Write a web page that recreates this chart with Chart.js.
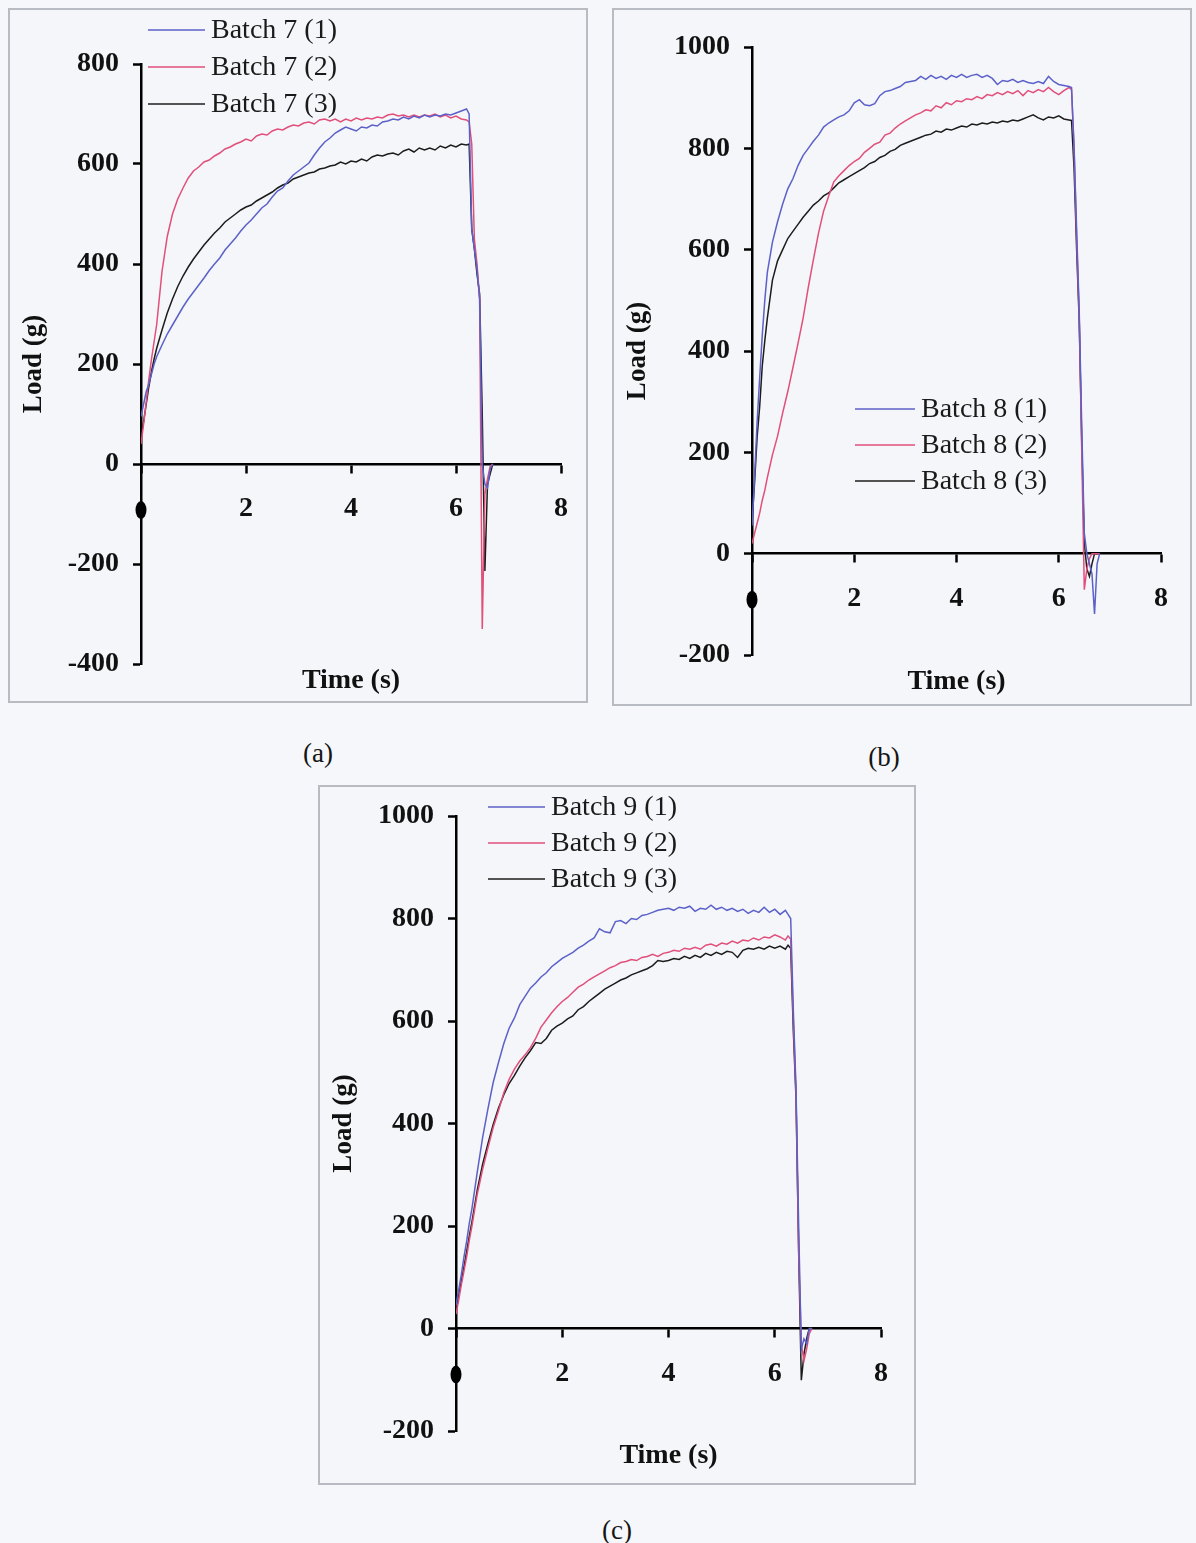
<!DOCTYPE html>
<html>
<head>
<meta charset="utf-8">
<script src="https://cdn.jsdelivr.net/npm/chart.js@4.4.0/dist/chart.umd.min.js"></script>
<style>
  body { margin: 0; width: 1196px; height: 1543px; position: relative; overflow: hidden;
         background: #f6f7fa; font-family: 'Liberation Serif', 'Times New Roman', serif; }
  .panel { position: absolute; background: #f5f6f9; outline: 2px solid #b9bbc2; outline-offset: -2px; }
  .panel canvas { position: absolute; left: 0; top: 0; }
  .caption { position: absolute; font-size: 27px; color: #151515; transform: translate(-50%, -50%); }
</style>
</head>
<body>
<div class="panel" style="left:8px;top:8px;width:580px;height:695px"><canvas id="chartA" width="580" height="695"></canvas></div>
<div class="panel" style="left:612px;top:8px;width:580px;height:698px"><canvas id="chartB" width="580" height="698"></canvas></div>
<div class="panel" style="left:318px;top:785px;width:598px;height:700px"><canvas id="chartC" width="598" height="700"></canvas></div>
<div class="caption" style="left:318px;top:753px">(a)</div>
<div class="caption" style="left:884px;top:757px">(b)</div>
<div class="caption" style="left:617px;top:1530px">(c)</div>

<script>
// sample times (s) for batch 7 and batch 9 runs
const timeA = [
  0, 0.05, 0.1, 0.15, 0.2, 0.25, 0.3,
  0.4, 0.5, 0.6, 0.7, 0.8, 0.9, 1.0, 1.1, 1.2, 1.3,
  1.4, 1.5, 1.6, 1.7, 1.8, 1.9, 2.0, 2.1, 2.2, 2.3,
  2.4, 2.5, 2.6, 2.7, 2.8, 2.9, 3.0, 3.1, 3.2, 3.3,
  3.4, 3.5, 3.6, 3.7, 3.8, 3.9, 4.0, 4.1, 4.2, 4.3,
  4.4, 4.5, 4.6, 4.7, 4.8, 4.9, 5.0, 5.1, 5.2, 5.3,
  5.4, 5.5, 5.6, 5.7, 5.8, 5.9, 6.0, 6.1, 6.2,
  6.25, 6.3, 6.35, 6.4, 6.45, 6.5, 6.55, 6.6, 6.65, 6.7
]
// batch 8 runs settle a little later
const timeB = [
  0, 0.05, 0.1, 0.15, 0.2, 0.25, 0.3,
  0.4, 0.5, 0.6, 0.7, 0.8, 0.9, 1.0, 1.1, 1.2, 1.3,
  1.4, 1.5, 1.6, 1.7, 1.8, 1.9, 2.0, 2.1, 2.2, 2.3,
  2.4, 2.5, 2.6, 2.7, 2.8, 2.9, 3.0, 3.1, 3.2, 3.3,
  3.4, 3.5, 3.6, 3.7, 3.8, 3.9, 4.0, 4.1, 4.2, 4.3,
  4.4, 4.5, 4.6, 4.7, 4.8, 4.9, 5.0, 5.1, 5.2, 5.3,
  5.4, 5.5, 5.6, 5.7, 5.8, 5.9, 6.0, 6.1, 6.2,
  6.25, 6.3, 6.35, 6.4, 6.45, 6.5, 6.55, 6.6, 6.65, 6.7, 6.75, 6.8
]

// load (g)
const batch7Run1 = [
  95, 120, 145, 160, 180, 200, 215,
  238, 260, 278, 296, 314, 330, 344, 358, 372, 387,
  400, 412, 428, 440, 452, 466, 478, 488, 500, 512,
  520, 534, 546, 552, 566, 578, 586, 594, 602, 618,
  632, 644, 652, 662, 668, 674, 670, 666, 674, 672,
  678, 676, 684, 686, 690, 688, 694, 690, 696, 692,
  698, 694, 698, 696, 700, 698, 702, 706, 710,
  700, 470, 430, 390, 330, 0, -40, -48, -10, 0
]
const batch7Run2 = [
  40, 80, 125, 170, 210, 245, 280,
  385, 455, 500, 530, 552, 572, 586, 594, 604, 608,
  616, 622, 630, 634, 640, 644, 650, 646, 656, 660,
  658, 666, 670, 668, 674, 678, 676, 682, 684, 680,
  688, 690, 686, 690, 684, 690, 686, 692, 688, 692,
  690, 694, 692, 698, 700, 696, 698, 694, 698, 694,
  698, 696, 700, 694, 698, 692, 696, 690, 688,
  684, 640, 450, 400, 330, -330, -60, -30, -5, 0
]
const batch7Run3 = [
  55, 85, 120, 155, 185, 210, 232,
  268, 302, 330, 355, 376, 394, 410, 424, 438, 450,
  462, 472, 484, 492, 500, 508, 514, 518, 526, 532,
  538, 544, 552, 558, 562, 570, 574, 578, 582, 584,
  590, 592, 596, 598, 604, 600, 606, 604, 610, 606,
  614, 618, 616, 620, 622, 618, 626, 630, 624, 632,
  628, 632, 628, 636, 632, 638, 634, 640, 638,
  640, 470, 430, 380, 340, 100, -214, -40, -20, 0
]

const batch8Run1 = [
  55, 150, 260, 347, 430, 500, 555,
  615, 655, 690, 720, 740, 766, 786, 800, 814, 826,
  842, 850, 856, 862, 866, 874, 890, 896, 886, 884,
  888, 904, 912, 914, 918, 922, 930, 932, 934, 942,
  936, 944, 938, 942, 936, 944, 940, 946, 940, 944,
  946, 940, 944, 938, 926, 934, 932, 936, 930, 934,
  930, 928, 932, 928, 942, 932, 926, 924, 922,
  920, 800, 640, 480, 250, 40, 0, -20, -40, -119, -20, 0
]
const batch8Run2 = [
  20, 40, 60, 80, 105, 125, 150,
  195, 232, 278, 320, 367, 415, 465, 525, 580, 632,
  676, 706, 734, 746, 756, 766, 774, 780, 792, 800,
  808, 812, 826, 830, 840, 848, 854, 860, 866, 870,
  876, 874, 884, 880, 890, 886, 894, 892, 898, 896,
  902, 898, 906, 904, 910, 906, 912, 908, 914, 904,
  914, 910, 916, 912, 920, 912, 906, 914, 920,
  916, 800, 620, 470, 200, -71, -30, -10, 0, 0, 0, 0
]
const batch8Run3 = [
  60, 140, 230, 290, 370, 420, 465,
  540, 578, 600, 622, 636, 650, 664, 676, 688, 696,
  706, 712, 722, 732, 738, 744, 750, 756, 762, 770,
  774, 782, 786, 794, 798, 806, 810, 814, 818, 822,
  826, 828, 834, 832, 838, 836, 840, 844, 842, 848,
  846, 850, 848, 852, 850, 854, 852, 856, 854, 858,
  862, 866, 860, 856, 862, 860, 864, 858, 856,
  855, 760, 600, 460, 220, 20, -30, -45, -20, 0, 0, 0
]

const batch9Run1 = [
  45, 75, 105, 140, 170, 205, 234,
  305, 372, 428, 480, 519, 556, 586, 606, 632, 648,
  664, 674, 686, 694, 706, 714, 722, 728, 734, 742,
  748, 756, 762, 780, 774, 772, 794, 796, 790, 800,
  798, 806, 808, 812, 816, 818, 820, 816, 822, 820,
  824, 814, 820, 818, 826, 818, 822, 816, 820, 814,
  818, 810, 816, 812, 822, 812, 818, 808, 816,
  808, 800, 620, 470, 200, -40, -20, -30, 0, 0
]
const batch9Run2 = [
  28, 55, 85, 112, 140, 172, 200,
  262, 310, 352, 392, 425, 460, 486, 506, 522, 534,
  548, 566, 588, 602, 616, 628, 638, 646, 656, 666,
  672, 680, 686, 692, 698, 704, 708, 714, 716, 720,
  718, 724, 726, 730, 726, 732, 734, 738, 736, 742,
  740, 744, 740, 748, 750, 746, 752, 750, 756, 752,
  758, 756, 762, 758, 764, 762, 768, 764, 758,
  766, 760, 600, 460, 150, -30, -63, -40, -10, 0
]
const batch9Run3 = [
  38, 65, 92, 120, 150, 180, 208,
  270, 320, 360, 398, 430, 456, 478, 494, 512, 528,
  542, 558, 556, 566, 582, 590, 596, 604, 610, 622,
  628, 638, 646, 654, 662, 668, 674, 680, 684, 690,
  694, 698, 702, 708, 718, 716, 718, 722, 720, 726,
  722, 728, 724, 732, 728, 734, 730, 736, 734, 724,
  738, 742, 740, 744, 740, 746, 742, 746, 740,
  748, 742, 580, 450, 150, -101, -50, -20, 0, 0
]

const labels7 = ['Batch 7 (1)', 'Batch 7 (2)', 'Batch 7 (3)']
const labels8 = ['Batch 8 (1)', 'Batch 8 (2)', 'Batch 8 (3)']
const labels9 = ['Batch 9 (1)', 'Batch 9 (2)', 'Batch 9 (3)']
const runColours = ['#5b61c9', '#e14f7b', '#1c1c1c']

const SERIF = "'Liberation Serif', 'Times New Roman', serif"

// axis title, inset legend and the filled dot standing in for the "0" time label
const panelDecor = {
  id: 'panelDecor',
  afterDraw(chart, args, opts) {
    const ctx = chart.ctx
    const area = chart.chartArea
    const xs = chart.scales.x
    const ys = chart.scales.y
    const zeroY = ys.getPixelForValue(0)

    ctx.save()
    ctx.fillStyle = '#000'
    ctx.beginPath()
    ctx.ellipse(xs.getPixelForValue(0), zeroY + 46, 5.5, 9, 0, 0, Math.PI * 2)
    ctx.fill()

    ctx.fillStyle = '#111'
    ctx.font = 'bold 28px ' + SERIF
    ctx.textAlign = 'center'
    ctx.textBaseline = 'middle'
    ctx.fillText('Time (s)', (area.left + area.right) / 2, area.bottom + opts.titleGap)

    ctx.font = '28px ' + SERIF
    ctx.textAlign = 'left'
    chart.data.datasets.forEach((ds, i) => {
      const y = opts.legendY + i * opts.legendStep
      ctx.strokeStyle = ds.borderColor
      ctx.lineWidth = 1.5
      ctx.beginPath()
      ctx.moveTo(opts.legendX, y)
      ctx.lineTo(opts.legendX + opts.legendLen, y)
      ctx.stroke()
      ctx.fillStyle = '#1a1a1a'
      ctx.fillText(ds.label, opts.legendX + opts.legendLen + 6, y + 1)
    })
    ctx.restore()
  }
}

function makePanel(canvasId, p) {
  const datasets = p.series.map((vals, i) => ({
    label: p.labels[i],
    data: p.time.map((t, j) => ({ x: t, y: vals[j] })),
    borderColor: runColours[i],
    borderWidth: 1.5,
    pointRadius: 0,
    tension: 0,
    fill: false
  }))

  const axisGrid = {
    display: true,
    drawOnChartArea: false,
    drawTicks: true,
    tickLength: 8,
    tickWidth: 2.5,
    tickColor: '#000'
  }
  const tickFont = { family: SERIF, size: 28, weight: 'bold' }

  return new Chart(document.getElementById(canvasId), {
    type: 'line',
    data: { datasets },
    plugins: [panelDecor],
    options: {
      responsive: false,
      animation: false,
      devicePixelRatio: 1,
      layout: { padding: p.padding },
      plugins: {
        legend: { display: false },
        tooltip: { enabled: false },
        panelDecor: p.decor
      },
      scales: {
        x: {
          type: 'linear',
          position: { y: 0 },
          min: 0,
          max: 8,
          grid: axisGrid,
          border: { color: '#000', width: 2.5 },
          ticks: {
            stepSize: 2,
            padding: 20,
            color: '#111',
            font: tickFont,
            callback: v => (v === 0 ? '' : String(v))
          }
        },
        y: {
          min: p.yMin,
          max: p.yMax,
          afterFit: scale => { scale.width = p.yWidth },
          grid: axisGrid,
          border: { color: '#000', width: 2.5 },
          ticks: {
            stepSize: 200,
            padding: 14,
            color: '#111',
            font: tickFont,
            callback: v => String(v)
          },
          title: {
            display: true,
            text: 'Load (g)',
            color: '#111',
            padding: { top: 10, bottom: 0 },
            font: { family: SERIF, size: 27, weight: 'bold' }
          }
        }
      }
    }
  })
}

makePanel('chartA', {
  time: timeA,
  series: [batch7Run1, batch7Run2, batch7Run3],
  labels: labels7,
  yMin: -400, yMax: 800, yWidth: 133,
  padding: { left: 0, right: 20, top: 56, bottom: 39 },
  decor: { titleGap: 17, legendX: 140, legendLen: 57, legendY: 22, legendStep: 37 }
})

makePanel('chartB', {
  time: timeB,
  series: [batch8Run1, batch8Run2, batch8Run3],
  labels: labels8,
  yMin: -200, yMax: 1000, yWidth: 140,
  padding: { left: 0, right: 31, top: 39, bottom: 51 },
  decor: { titleGap: 27, legendX: 243, legendLen: 60, legendY: 401, legendStep: 36 }
})

makePanel('chartC', {
  time: timeA,
  series: [batch9Run1, batch9Run2, batch9Run3],
  labels: labels9,
  yMin: -200, yMax: 1000, yWidth: 138,
  padding: { left: 0, right: 35, top: 31, bottom: 54 },
  decor: { titleGap: 25, legendX: 170, legendLen: 57, legendY: 22, legendStep: 36 }
})
</script>
</body>
</html>
